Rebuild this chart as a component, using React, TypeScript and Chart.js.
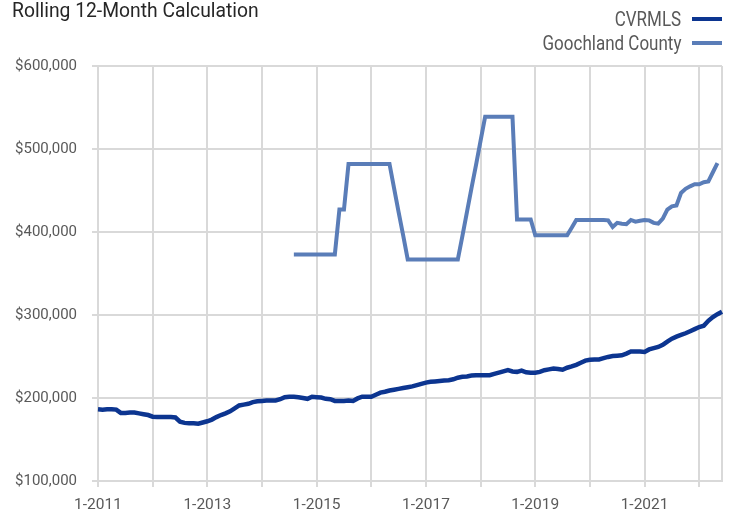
import React, { useEffect, useRef } from "react";
import { Chart, registerables } from "chart.js";

Chart.register(...registerables);

// Months Jan 2011 .. Jun 2022
const months: string[] = [];
for (let y = 2011; y <= 2022; y++) {
  for (let m = 1; m <= 12; m++) {
    if (y === 2022 && m > 6) break;
    months.push(`${m}-${y}`);
  }
}

const cvrmls: number[] = [
  186500, 186000, 186500, 186500, 186000, 182000, 182000, 182500, 182500, 181500, 180500, 179500,
  177500, 177000, 177000, 177000, 177000, 176500, 171500, 170000, 169500, 169500, 169000, 170500,
  172000, 174000, 177000, 179500, 181500, 184000, 187500, 191000, 192000, 193000, 195000, 196000,
  196500, 197000, 197000, 197000, 198500, 201000, 201500, 201500, 201000, 200000, 199000, 201500,
  201000, 200500, 199000, 198500, 196500, 196500, 196500, 197000, 196500, 199500, 201500, 201500,
  201500, 204000, 206500, 207500, 209000, 210000, 211000, 212000, 213000, 214000, 215500, 217000,
  218500, 219500, 220000, 220500, 221000, 221500, 222500, 224500, 225500, 226000, 227000, 227500,
  227500, 227500, 227500, 229000, 230500, 232000, 233500, 232000, 231500, 233000, 231000, 230500,
  230500, 231500, 233500, 234500, 235500, 235000, 234000, 236500, 238000, 240000, 242500, 245000,
  246000, 246500, 246500, 248000, 249500, 250500, 251000, 251500, 253500, 256000, 256000, 256000,
  255500, 258500, 260000, 261500, 264000, 268000, 271500, 274000, 276000, 278000, 280500, 283000,
  285500, 287000, 293000, 297500, 301000, 304000,
];

const goochland: (number | null)[] = [
  null, null, null, null, null, null, null, null, null, null, null, null,
  null, null, null, null, null, null, null, null, null, null, null, null,
  null, null, null, null, null, null, null, null, null, null, null, null,
  null, null, null, null, null, null, null, 373000, 373000, 373000, 373000, 373000,
  373000, 373000, 373000, 373000, 373000, 427000, 427000, 482000, 482000, 482000, 482000, 482000,
  482000, 482000, 482000, 482000, 482000, 453000, 424000, 396000, 367000, 367000, 367000, 367000,
  367000, 367000, 367000, 367000, 367000, 367000, 367000, 367000, 395000, 424000, 453000, 481000,
  510000, 539000, 539000, 539000, 539000, 539000, 539000, 539000, 415000, 415000, 415000, 415000,
  396000, 396000, 396000, 396000, 396000, 396000, 396000, 396000, 405000, 414500, 414500, 414500,
  414500, 414500, 414500, 414500, 414000, 406000, 411000, 410000, 409500, 414500, 412500, 413500,
  414500, 414000, 411000, 410000, 416000, 427000, 431000, 432000, 447000, 452000, 455000, 457500,
  457500, 460000, 461000, 472000, 483000,
];

const seriesNames = ["CVRMLS", "Goochland County"];
const seriesColors = ["#0C3590", "#5A7DB8"];
const yTicks = [100000, 200000, 300000, 400000, 500000, 600000];
const titleText = "Rolling 12-Month Calculation";

const GRID = "#d9d9d9";
const TEXT = "#595959";
const FONT = "Roboto, 'Liberation Sans', Arial, sans-serif";

export default function App() {
  const ref = useRef<HTMLCanvasElement | null>(null);

  useEffect(() => {
    if (!ref.current) return;
    const last = months.length - 1;
    const chart = new Chart(ref.current, {
      type: "line",
      data: {
        labels: months,
        datasets: [
          {
            label: seriesNames[0],
            data: cvrmls,
            borderColor: seriesColors[0],
            backgroundColor: seriesColors[0],
            borderWidth: 4.5,
            pointRadius: 0,
            tension: 0,
          },
          {
            label: seriesNames[1],
            data: goochland,
            borderColor: seriesColors[1],
            backgroundColor: seriesColors[1],
            borderWidth: 4,
            pointRadius: 0,
            tension: 0,
          },
        ],
      },
      options: {
        animation: false,
        responsive: false,
        maintainAspectRatio: false,
        layout: { padding: { top: 66, right: 10, left: 0, bottom: 0 } },
        plugins: {
          legend: { display: false },
          title: { display: false },
          tooltip: { enabled: false },
        },
        scales: {
          x: {
            type: "category",
            offset: false,
            afterFit: (s: any) => {
              s.height = 34;
            },
            grid: {
              display: true,
              drawOnChartArea: true,
              lineWidth: 2,
              tickLength: 6,
              color: (ctx: any) =>
                ctx.index % 12 === 0 || ctx.index === last ? GRID : "rgba(0,0,0,0)",
              tickColor: (ctx: any) => (ctx.index % 12 === 0 ? GRID : "rgba(0,0,0,0)"),
            },
            border: { display: true, color: GRID, width: 2 },
            ticks: {
              autoSkip: false,
              maxRotation: 0,
              minRotation: 0,
              padding: 9,
              color: TEXT,
              font: { family: FONT, size: 15.5 },
              callback: function (this: any, value: any, index: number) {
                return index % 24 === 0 ? months[index] : "";
              },
            },
          },
          y: {
            min: yTicks[0],
            max: yTicks[yTicks.length - 1],
            afterFit: (s: any) => {
              s.width = 98;
            },
            afterBuildTicks: (s: any) => {
              s.ticks = yTicks.map((v) => ({ value: v }));
            },
            grid: { color: GRID, lineWidth: 2, tickLength: 6, tickColor: GRID },
            border: { display: true, color: GRID, width: 2 },
            ticks: {
              padding: 15,
              color: TEXT,
              font: { family: FONT, size: 15 },
              callback: (v: any) => "$" + Number(v).toLocaleString("en-US"),
            },
          },
        },
      },
    });
    return () => chart.destroy();
  }, []);

  return (
    <div
      style={{
        position: "absolute",
        left: 0,
        top: 0,
        width: 732,
        height: 515,
        background: "#fff",
        overflow: "hidden",
        fontFamily: FONT,
      }}
    >
      <canvas ref={ref} width={732} height={515} style={{ position: "absolute", left: 0, top: 0 }} />
      <div
        style={{
          position: "absolute",
          left: 12,
          top: -1,
          fontSize: 19.3,
          lineHeight: "24px",
          color: "#262626",
          whiteSpace: "nowrap",
        }}
      >
        {titleText}
      </div>
      {seriesNames.map((name, i) => (
        <div
          key={name}
          style={{
            position: "absolute",
            right: 10,
            top: 7 + i * 24,
            height: 24,
            display: "flex",
            alignItems: "center",
            fontSize: 20,
            color: TEXT,
            whiteSpace: "nowrap",
          }}
        >
          <span
            style={{
              display: "inline-block",
              transform: "scaleX(0.85)",
              transformOrigin: "right center",
            }}
          >
            {name}
          </span>
          <span
            style={{
              display: "inline-block",
              width: 30,
              height: 4,
              background: seriesColors[i],
              marginLeft: 11,
            }}
          />
        </div>
      ))}
    </div>
  );
}
